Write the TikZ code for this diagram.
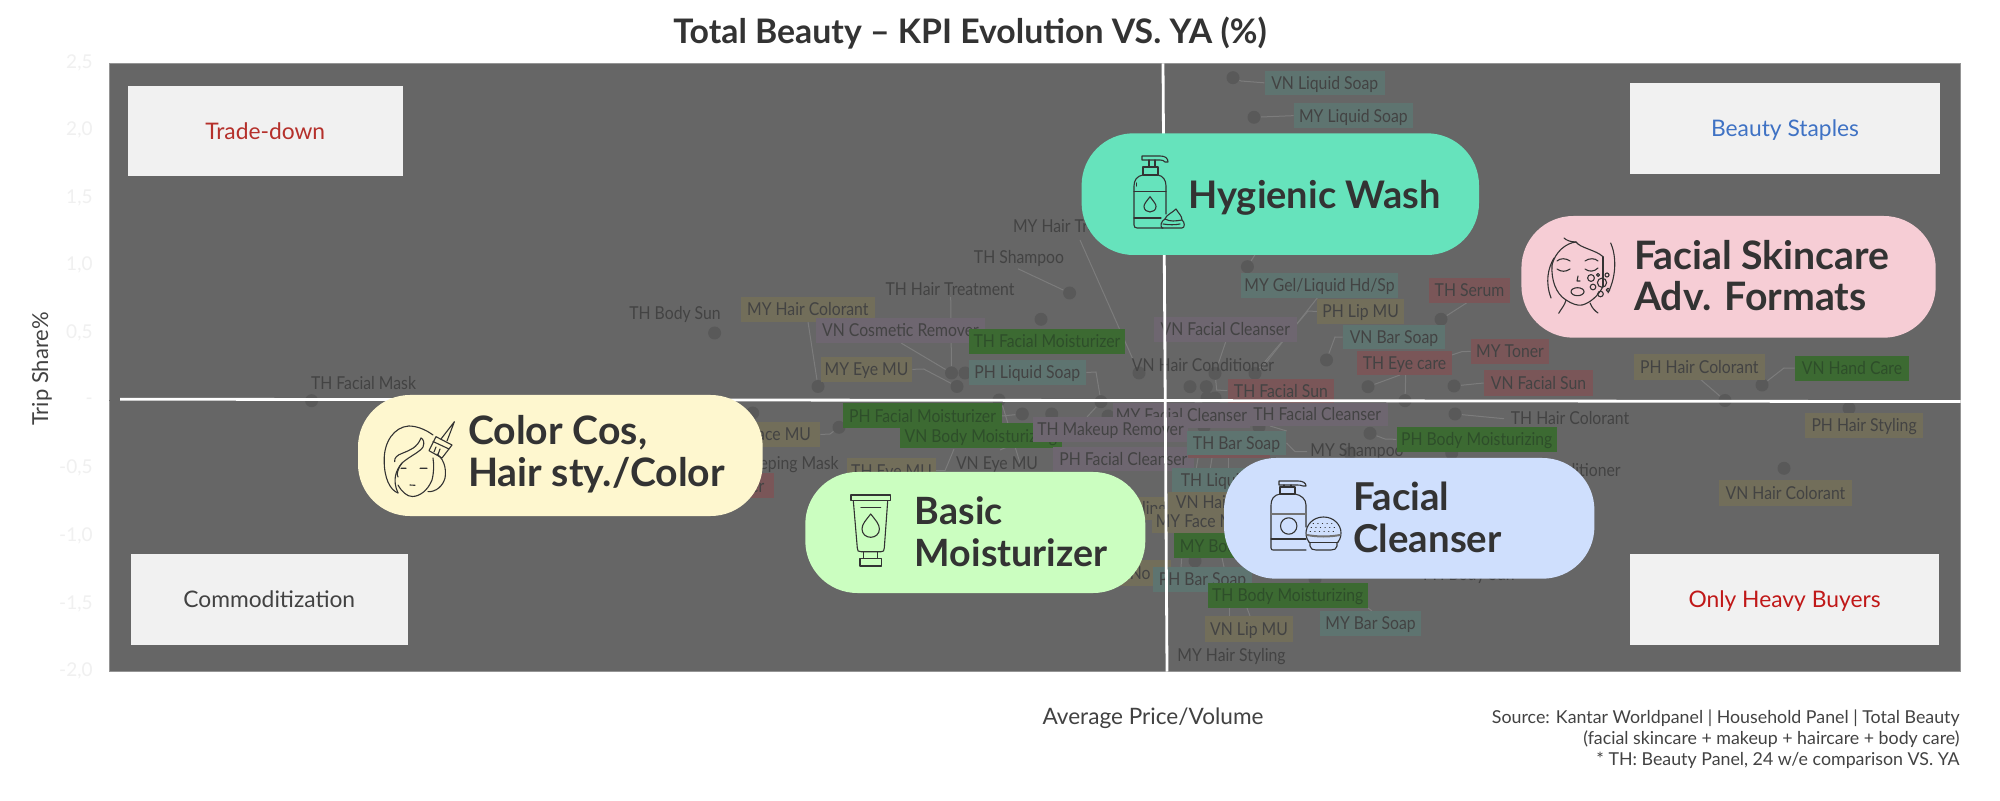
\documentclass[tikz,border=0pt]{standalone}
\usepackage{fontspec}
\setmainfont{Lato}
\newfontfamily\labfont[FakeStretch=0.885]{Lato}
\usetikzlibrary{positioning}
\definecolor{plotgrey}{HTML}{666666}
\definecolor{inktxt}{HTML}{333333}
\definecolor{dimtxt}{HTML}{424242}
\definecolor{labink}{HTML}{434343}
\definecolor{grnink}{HTML}{2E4E2A}
\definecolor{dotgrey}{HTML}{595959}
\definecolor{leadgrey}{HTML}{7C7C7C}
\definecolor{labteal}{HTML}{5E7470}
\definecolor{labolive}{HTML}{726E5A}
\definecolor{labpur}{HTML}{6E6670}
\definecolor{labgreen}{HTML}{3C6A32}
\definecolor{labred}{HTML}{7A5658}
\definecolor{pillgreen}{HTML}{66E3BC}
\definecolor{pillpink}{HTML}{F6CDD5}
\definecolor{pillyellow}{HTML}{FEF7CF}
\definecolor{pilllime}{HTML}{CBFEC0}
\definecolor{pillblue}{HTML}{CFDFFD}
\pgfdeclarelayer{plotlayer}
\pgfdeclarelayer{leaders}
\pgfdeclarelayer{axes}
\pgfdeclarelayer{pills}
\pgfsetlayers{plotlayer,leaders,main,axes,pills}
\tikzset{
  labbox/.style={rectangle,inner sep=0pt,text=labink,text height=7.4pt,text depth=1pt,font=\labfont\fontsize{8.9}{10}\selectfont},
  teal/.style={fill=labteal},
  olive/.style={fill=labolive},
  pur/.style={fill=labpur},
  grn/.style={fill=labgreen,text=grnink},
  rd/.style={fill=labred},
  labtxt/.style={inner sep=0pt,text=labink,text height=7.4pt,text depth=1pt,font=\labfont\fontsize{8.9}{10}\selectfont},
  ptdot/.style={circle,fill=dotgrey,minimum size=6.5pt,inner sep=0pt},
  lead/.style={draw=leadgrey,line width=0.5pt},
  tick/.style={inner sep=0pt,anchor=east,text=black!6,font=\fontsize{9.5}{10}\selectfont},
  whitebox/.style={rectangle,fill=black!5.5,inner sep=0pt,text height=9.2pt,text depth=1pt,font=\fontsize{11.4}{13}\selectfont},
  pill/.style={rectangle,rounded corners=26pt,inner sep=0pt},
  pilltxt/.style={inner sep=0pt,anchor=west,align=left,text=inktxt,font=\fontsize{19.6}{20.8}\selectfont\bfseries},
  axisline/.style={draw=white,line width=1.4pt},
  icon/.style={draw=inktxt,line width=0.55pt,line join=round,line cap=round},
}
\newcommand{\lbl}[7]{\node[labbox,#2,minimum width={(#5-#3)*0.5pt},minimum height={(#6-#4)*0.5pt}] (#1) at ({(#3+#5)/2},{(#4+#6)/2}) {#7};}
\newcommand{\dotn}[3]{\node[ptdot] (#1) at (#2,#3) {};}
\newcommand{\bx}[6]{\node[#2,minimum width={(#5-#3)*0.5pt},minimum height={(#6-#4)*0.5pt}] (#1) at ({(#3+#5)/2},{(#4+#6)/2})}
\begin{document}
\begin{tikzpicture}[x=0.5pt,y=-0.5pt]
\useasboundingbox (0,0) rectangle (2000,801);
% plot area
\begin{pgfonlayer}{plotlayer}
\fill[white] (0,0) rectangle (2000,801);
\bx{plot}{rectangle,fill=plotgrey,draw=black!42,line width=0.5pt,inner sep=0pt}{109.5}{63.5}{1960.5}{671.5} {};
\end{pgfonlayer}
% title and axis texts
\node[inner sep=0pt,text=inktxt,font=\fontsize{16.9}{20}\selectfont\bfseries] (title) at (970,33) {Total Beauty – KPI Evolution VS. YA (\%)};
\node[inner sep=0pt,rotate=90,text=dimtxt,font=\fontsize{11}{13}\selectfont] (ytitle) at (42,369) {Trip Share\%};
\node[inner sep=0pt,text=dimtxt,font=\fontsize{11.3}{13}\selectfont] (xtitle) at (1153,718) {Average Price/Volume};
\node[inner sep=0pt,anchor=north east,align=right,text=dimtxt,font=\fontsize{8.9}{10.6}\selectfont] (source) at (1960,709) {Source: Kantar Worldpanel | Household Panel | Total Beauty\\(facial skincare + makeup + haircare + body care)\\* TH: Beauty Panel, 24 w/e comparison VS. YA};
% ticks
\node[tick] (t1) at (93,63) {2,5};
\node[tick] (t2) at (93,130) {2,0};
\node[tick] (t3) at (93,198) {1,5};
\node[tick] (t4) at (93,265) {1,0};
\node[tick] (t5) at (93,333) {0,5};
\node[tick] (t6) at (93,401) {-};
\node[tick] (t7) at (93,468) {-0,5};
\node[tick] (t8) at (93,536) {-1,0};
\node[tick] (t9) at (93,604) {-1,5};
\node[tick] (t10) at (93,671) {-2,0};
% dots
\dotn{dMask}{311.6}{400.7}
\dotn{dBodySun}{714.6}{333}
\dotn{dShamp}{1069.6}{293}
\dotn{dA}{1041}{319.3}
\dotn{dHCol}{818}{386.5}
\dotn{dCos}{951.5}{373}
\dotn{dB}{965}{373}
\dotn{dEye}{957}{386.5}
\dotn{dHairTr}{1139}{373}
\dotn{dLiq}{1101}{401.7}
\dotn{dC}{1190}{386.7}
\dotn{dD}{1206.3}{386.7}
\dotn{dVFC}{1215}{373.3}
\dotn{dLip}{1255}{373.3}
\dotn{dE}{1207}{398}
\dotn{dF}{1215}{398}
\dotn{dVBS}{1326.5}{360}
\dotn{dEyeC}{1368}{386.7}
\dotn{dEyeD}{1405}{400.7}
\dotn{dSerum}{1441}{319.3}
\dotn{dVSun}{1454}{386}
\dotn{dVLS}{1233}{77.7}
\dotn{dMLS}{1254}{117.3}
\dotn{dGel}{1247.4}{266.7}
\dotn{dHand}{1762}{385}
\dotn{dPHC}{1725}{400.5}
\dotn{dTHC}{1455}{414}
\dotn{dPBM}{1370}{433.3}
\dotn{dVHC}{1784}{468.3}
\dotn{dPHS}{1849}{408.3}
\dotn{dG}{752.7}{413}
\dotn{dFaceMU}{839}{427.3}
\dotn{dH}{1022.3}{414}
\dotn{dI}{1051.7}{414}
\dotn{dJ}{1108}{416}
\dotn{dK}{999}{400}
\dotn{dL}{1204}{427}
\dotn{dM}{1259}{427}
\dotn{dMSh}{1350}{453}
\dotn{dN}{1451.7}{453}
\dotn{dO}{1195}{561}
\dotn{dBar}{1315}{579}
% plain and boxed scatter labels, in stacking order
\node[labtxt] (lMask) at (363.5,383) {TH Facial Mask};
\node[labtxt] (lBodySun) at (675,312.7) {TH Body Sun};
\node[labtxt] (lHairTr) at (950,289) {TH Hair Treatment};
\node[labtxt] (lShamp) at (1019,257) {TH Shampoo};
\node[labtxt] (lMHT) at (1079,226) {MY Hair Treatment};
\lbl{lMHC}{olive}{741}{297}{874.6}{322}{MY Hair Colorant}
\lbl{lCos}{pur}{816}{318}{985}{343}{VN Cosmetic Remover}
\lbl{lTFM}{grn}{968.6}{329}{1125.4}{353.7}{TH Facial Moisturizer}
\lbl{lPLS}{teal}{968.6}{360}{1086}{385}{PH Liquid Soap}
\lbl{lMEye}{olive}{821}{357}{912}{381.7}{MY Eye MU}
\lbl{lVFC}{pur}{1154}{317.3}{1296.7}{341.7}{VN Facial Cleanser}
\node[labtxt] (lVHC) at (1203,365) {VN Hair Conditioner};
\lbl{lTFS}{rd}{1227.7}{378.7}{1334}{402.7}{TH Facial Sun}
\lbl{lVLS}{teal}{1264.8}{70.7}{1384.7}{95}{VN Liquid Soap}
\lbl{lMLS}{teal}{1294}{103.3}{1412.8}{128}{MY Liquid Soap}
\lbl{lGel}{teal}{1241}{273}{1398}{297.7}{MY Gel/Liquid Hd/Sp}
\lbl{lSerum}{rd}{1429}{278}{1510}{302.7}{TH Serum}
\lbl{lLip}{olive}{1317.3}{299}{1404}{324}{PH Lip MU}
\lbl{lVBS}{teal}{1343}{325}{1445}{349.3}{VN Bar Soap}
\lbl{lToner}{rd}{1471}{339}{1549}{363.7}{MY Toner}
\lbl{lEyeC}{rd}{1357}{350.7}{1452}{375}{TH Eye care}
\lbl{lVSun}{rd}{1484}{370.3}{1593}{395.7}{VN Facial Sun}
\lbl{lPHC}{olive}{1633.7}{354}{1765}{379.7}{PH Hair Colorant}
\lbl{lHand}{grn}{1795}{355.7}{1909}{380.7}{VN Hand Care}
\lbl{lPHS}{olive}{1804.7}{413.3}{1923.4}{437.7}{PH Hair Styling}
\lbl{lVHCol}{olive}{1719}{480}{1852}{505.7}{VN Hair Colorant}
\node[labtxt] (lTHC) at (1570,418.3) {TH Hair Colorant};
\node[labtxt,anchor=east] (lCond) at (1621,470) {Hair Conditioner};
\node[labtxt,anchor=east] (lBS) at (1515,574) {PH Body Sun};
\lbl{lFace}{olive}{715}{422.3}{820}{446.7}{TH Face MU}
\node[labtxt,anchor=east] (lSleep) at (839,463) {TH Sleeping Mask};
\lbl{lTon}{rd}{690}{473.3}{774}{498.3}{TH Toner}
\lbl{lTEye}{olive}{847.3}{458.3}{935.7}{483}{TH Eye MU}
\node[labtxt] (lVEye) at (997,463.3) {VN Eye MU};
\lbl{lPFM}{grn}{843.3}{403.3}{1001.7}{428.3}{PH Facial Moisturizer}
\lbl{lVBM}{grn}{900}{423.3}{1061.7}{448.3}{VN Body Moisturizing}
\lbl{lMFC}{pur}{1113}{402.7}{1250}{428}{MY Facial Cleanser}
\lbl{lTFC}{pur}{1246.7}{402.7}{1387.7}{426}{TH Facial Cleanser}
\lbl{lTMR}{pur}{1033}{416.7}{1188}{441.7}{TH Makeup Remover}
\lbl{lPFC}{pur}{1052.7}{446.7}{1194}{471}{PH Facial Cleanser}
\lbl{lRed}{rd}{1188}{440}{1270}{458}{}
\lbl{lTBS}{teal}{1187}{430.7}{1286}{455}{TH Bar Soap}
\node[labtxt] (lMSh) at (1357,450) {MY Shampoo};
\lbl{lPBM}{grn}{1396.7}{426.7}{1556.7}{452}{PH Body Moisturizing}
\lbl{lTLS}{teal}{1172.3}{468.3}{1295}{491.7}{TH Liquid Soap}
\lbl{lHst}{olive}{1040}{497}{1163}{520}{\hspace*{1.4em}TH Hair Styling}
\lbl{lVHa}{olive}{1168}{491.7}{1290}{513}{VN Hair Styling}
\lbl{lMFa}{olive}{1151.7}{509}{1250}{533.3}{MY Face MU}
\lbl{lMBo}{grn}{1174}{533.3}{1340}{558.3}{MY Body Moisturizing}
\lbl{lNo}{olive}{1120}{560}{1171}{586}{\hspace*{-0.6em}No}
\lbl{lPBa}{teal}{1153}{567}{1252}{592}{PH Bar Soap}
\lbl{lTBM}{grn}{1207.7}{582.7}{1367.7}{607.7}{TH Body Moisturizing}
\lbl{lVLip}{olive}{1205}{616}{1293}{641.7}{VN Lip MU}
\node[labtxt] (lMHS) at (1231.5,655) {MY Hair Styling};
\lbl{lMBar}{teal}{1320}{610.7}{1421}{635.7}{MY Bar Soap}
% leader lines
\begin{pgfonlayer}{leaders}
\draw[lead] (lShamp.south) ++(-1,3) -- (dShamp);
\draw[lead] (1080,240) -- (dHairTr);
\draw[lead] (808,322) -- (dHCol);
\draw[lead] (950.7,297) -- (dCos);
\draw[lead] (901,343) -- (dCos);
\draw[lead] (lMEye.east) -- (923.7,369) -- (dEye);
\draw[lead] (lPLS.east) -- (1096,372) -- (dLiq);
\draw[lead] (dVLS) -- (1241,81) -- (lVLS.west);
\draw[lead] (dMLS) -- (lMLS.west);
\draw[lead] (dGel) -- (1258,250);
\draw[lead] (dSerum) -- (1468,302);
\draw[lead] (dVBS) -- (1335,337) -- (lVBS.west);
\draw[lead] (1318,297) -- (1258,373);
\draw[lead] (lLip.west) -- (1308,311) -- (dLip);
\draw[lead] (1226,341) -- (dVFC);
\draw[lead] (lTFS.west) -- (1216.7,390) -- (dVFC);
\draw[lead] (dEyeC) -- (1400,375);
\draw[lead] (1405.7,375) -- (dEyeD);
\draw[lead] (lToner.west) -- (1461.7,351.7) -- (1451.7,355);
\draw[lead] (dVSun) -- (lVSun.west);
\draw[lead] (dHand) -- (1784,368) -- (lHand.west);
\draw[lead] (1700,379) -- (dPHC);
\draw[lead] (dTHC) -- (1504,418.7);
\draw[lead] (dPBM) -- (1385,439) -- (lPBM.west);
\draw[lead] (lFace.east) -- (830,434) -- (dFaceMU);
\draw[lead] (lTEye.east) -- (945,470.7) -- (954,449);
\draw[lead] (1001.7,416) -- (dH);
\draw[lead] (1001.7,403) -- (1020,463);
\draw[lead] (dLiq) -- (1087,417);
\draw[lead] (1000,450) -- (1016,443);
\draw[lead] (lTBS.east) -- (1295,451.7) -- (1307,451.7);
\draw[lead] (1198,458) -- (1196,470);
\draw[lead] (1212,458) -- (1210,470);
\draw[lead] (1228,458) -- (1228,470);
\draw[lead] (1270,426) -- (1286.7,431);
\draw[lead] (1229,608) -- (1229,616);
\draw[lead] (1247,608) -- (1250,616);
\draw[lead] (lTBM.south east) -- (1372,611);
\draw[lead] (lMBo.south west) ++(8,0) -- (1181,567);
\draw[lead] (1222,558) -- (1224,567);
\draw[draw=black!60,line width=0.5pt] (plot.west |- dMask) -- (182,400.7);
\end{pgfonlayer}
% axes
\begin{pgfonlayer}{axes}
\coordinate (hL) at (120,399.2);
\coordinate (hR) at (1960.5,401.6);
\coordinate (vT) at (1163,63.5);
\coordinate (vB) at (1167,671.5);
\draw[axisline] (hL) -- (hR);
\draw[axisline] (vT) -- (vB);
\end{pgfonlayer}
% quadrant boxes and category pills
\begin{pgfonlayer}{pills}
\bx{qTD}{whitebox,text={rgb,255:red,181;green,48;blue,43}}{128}{86}{402.5}{176} {Trade-down};
\bx{qBS}{whitebox,text={rgb,255:red,63;green,114;blue,196}}{1630}{83}{1940}{174} {Beauty Staples};
\bx{qCM}{whitebox,text=dimtxt}{130.5}{553.7}{408}{644.7} {Commoditization};
\bx{qHB}{whitebox,text={rgb,255:red,192;green,24;blue,24}}{1630}{553.7}{1939}{644.7} {Only Heavy Buyers};
\bx{pHW}{pill,fill=pillgreen}{1081.6}{133.3}{1479}{255} {};
\bx{pFS}{pill,fill=pillpink}{1521.4}{216}{1935.7}{337.7} {};
\bx{pCC}{pill,fill=pillyellow}{358}{395}{762.7}{516} {};
\bx{pBM}{pill,fill=pilllime}{805.3}{472}{1145.3}{593} {};
\bx{pFC}{pill,fill=pillblue}{1224}{458}{1594.4}{578.7} {};
\node[pilltxt,font=\fontsize{19}{20.8}\selectfont\bfseries] (tHW) at (1188,197.5) {Hygienic Wash};
\node[pilltxt] (tFS) at (1633.7,275.5) {Facial Skincare\\Adv. Formats};
\node[pilltxt] (tCC) at (467.7,454) {Color Cos,\\Hair sty./Color};
\node[pilltxt,font=\fontsize{18.8}{20.8}\selectfont\bfseries] (tBM) at (914.5,531.5) {Basic\\Moisturizer};
\node[pilltxt,font=\fontsize{19.2}{20.8}\selectfont\bfseries] (tFC) at (1353,517.5) {Facial\\Cleanser};
% pump bottle and cream
\draw[icon] (1142,156) -- (1160,156) .. controls (1165,156) and (1168,158) .. (1168,162) -- (1165,162) .. controls (1164,160.5) and (1162,160) .. (1160,160) -- (1142,160) -- cycle;
\draw[icon] (1149,160) -- (1149,167) (1155,160) -- (1155,167);
\draw[icon] (1143,167) -- (1158,167) -- (1158,175) -- (1143,175) -- cycle;
\draw[icon] (1143,175) .. controls (1137,176) and (1134,180) .. (1134,186) -- (1134,225) .. controls (1134,227) and (1135,228) .. (1137,228) -- (1163,228);
\draw[icon] (1158,175) .. controls (1163,176) and (1166,180) .. (1166,186) -- (1166,214);
\draw[icon] (1134,191.7) -- (1166,191.7) (1134,218) -- (1161,218);
\draw[icon] (1136.5,183) -- (1136.5,186);
\draw[icon] (1150,196.7) .. controls (1146,202) and (1144,204) .. (1144,206.5) .. controls (1144,210) and (1147,212) .. (1150,212) .. controls (1153,212) and (1156,210) .. (1156,206.5) .. controls (1156,204) and (1154,202) .. (1150,196.7) -- cycle;
\draw[icon] (1162,228) -- (1182,228) .. controls (1185,228) and (1185,222) .. (1182,220) .. controls (1182,216) and (1179,214) .. (1176,209) .. controls (1172,213) and (1166,215) .. (1165,219) .. controls (1161,221) and (1160,226) .. (1162,228) -- cycle;
\draw[icon] (1165,219) .. controls (1170,222) and (1176,221) .. (1182,220);
\draw[icon] (1163,224) .. controls (1169,225) and (1175,225) .. (1180,224);
% tube
\draw[icon] (851,495) -- (890.7,495) -- (890.7,500.7) -- (851,500.7) -- cycle;
\draw[icon] (853.3,500.7) -- (857.3,548) .. controls (857.5,551) and (858,551.7) .. (861,551.7) -- (881,551.7) .. controls (883.5,551.7) and (884,551) .. (884.3,548) -- (887.7,500.7);
\draw[icon] (863.7,551.7) -- (863.7,558.3) (877.7,551.7) -- (877.7,558.3);
\draw[icon] (860,558.3) -- (881.7,558.3) -- (881.7,566) -- (860,566) -- cycle;
\draw[icon] (861,507.3) -- (880.7,507.3);
\draw[icon] (870.7,514) .. controls (866,520) and (862,524) .. (862,529) .. controls (862,534) and (866,537.3) .. (870.7,537.3) .. controls (875.4,537.3) and (879.4,534) .. (879.4,529) .. controls (879.4,524) and (875.4,520) .. (870.7,514) -- cycle;
% cleanser bottle and compact
\draw[icon] (1279,481) -- (1298,481) .. controls (1303,481) and (1306,483) .. (1306,486) -- (1303,486) .. controls (1301,485) and (1299,485) .. (1297,485) -- (1279,485) -- cycle;
\draw[icon] (1284,485) -- (1284,487) (1291,485) -- (1291,487);
\draw[icon] (1280,487) -- (1295,487) -- (1295,494) -- (1280,494) -- cycle;
\draw[icon] (1280,494) .. controls (1274,495) and (1271,499) .. (1271,505) -- (1271,548) .. controls (1271,549.5) and (1272,550) .. (1273,550) -- (1306,550);
\draw[icon] (1295,494) .. controls (1301,495) and (1306,499) .. (1306,505) -- (1306,527);
\draw[icon,line width=1pt,draw=black!55] (1271,513.5) -- (1306,513.5);
\draw[icon] (1271,539) -- (1306,539);
\draw[icon] (1288.7,526) circle[radius=8.2];
\draw[icon] (1323.5,517) .. controls (1334,517) and (1341,525) .. (1341,533) .. controls (1341,538) and (1339,541) .. (1337,543) -- (1337,546) .. controls (1337,549) and (1334,550) .. (1331,550) -- (1316,550) .. controls (1313,550) and (1310,549) .. (1310,546) -- (1310,543) .. controls (1308,541) and (1306,538) .. (1306,533) .. controls (1306,525) and (1313,517) .. (1323.5,517) -- cycle;
\draw[icon,line width=1pt,draw=black!55] (1307,535) .. controls (1318,537) and (1329,537) .. (1340,535);
\draw[icon] (1309,542.7) -- (1338,542.7);
\draw[icon,line width=0.3pt,dotted] (1313,523) -- (1334,523) (1311,527) -- (1336,527) (1310,531) -- (1337,531);
% hair colour icon
\draw[icon] (433,435) .. controls (425,429) and (416,426) .. (408.8,426) .. controls (394,427) and (384,442) .. (384.2,460) .. controls (384,478) and (390,490) .. (398,493);
\draw[icon] (398,493) .. controls (392,480) and (396,470) .. (402,463) .. controls (410,456) and (420,452) .. (423,447) .. controls (425,442) and (423,439) .. (421,438);
\draw[icon] (421,438) .. controls (417,448) and (410,450) .. (403,453) .. controls (397,455) and (394,458) .. (394.7,461.7);
\draw[icon] (402,463) .. controls (398,468) and (396,475) .. (398,477);
\draw[icon] (398,485) .. controls (402,492) and (407,496.5) .. (412.3,496.5) .. controls (420,496.5) and (428,490) .. (432,480) .. controls (434,472) and (434,465) .. (433,458);
\draw[icon] (437,454) .. controls (446,461) and (446,472) .. (445,478) .. controls (443,486) and (436,492) .. (428,491.7);
\draw[icon] (401,468.3) -- (406,468.3) (420,468.3) -- (427,468.3) (410,485) -- (415,485.3);
\draw[icon] (436,436.7) -- (452,445) -- (442,458) -- (429,450.7) -- cycle;
\draw[icon] (433,441.5) -- (449,449);
\draw[icon] (434,452) -- (436,447) (438,454.5) -- (440,449);
\draw[icon] (441,439) -- (454.4,421.7) -- (447,441);
% facial skincare icon
\draw[icon] (1554,258) .. controls (1548,268) and (1545,282) .. (1551,298);
\draw[icon] (1552,265) .. controls (1555,252) and (1566,243) .. (1576,242) .. controls (1580,248) and (1596,250) .. (1603,256.7);
\draw[icon] (1603,256.7) -- (1603,286.7);
\draw[icon] (1552,265) .. controls (1551,280) and (1556,294) .. (1566,300) .. controls (1572,304) and (1578,306) .. (1582,305) .. controls (1590,303) and (1598,296) .. (1603,286.7);
\draw[icon] (1566,300) .. controls (1565,305) and (1561,309) .. (1558.7,313.3);
\draw[icon] (1590,303) .. controls (1592,308) and (1595,311) .. (1598,313);
\draw[icon] (1564,238) .. controls (1566,240) and (1570,242) .. (1576,242);
\draw[icon] (1610.7,243) .. controls (1616,255) and (1617,275) .. (1608,293);
\draw[icon] (1557,261) .. controls (1560,258) and (1566,258) .. (1570,261);
\draw[icon] (1585,261) .. controls (1589,258) and (1595,258) .. (1598,261);
\draw[icon] (1557,269) .. controls (1561,272) and (1566,272) .. (1570,269);
\draw[icon] (1585,269) .. controls (1589,272) and (1594,272) .. (1598,268);
\draw[icon] (1577.5,291.7) ellipse[x radius=6.5,y radius=4];
\draw[icon] (1578,276) -- (1577,281) -- (1580,281);
\draw[icon] (1591,278) circle[radius=3.4];
\draw[icon] (1602,282.7) circle[radius=4.6];
\draw[icon] (1593,287) circle[radius=2.8];
\draw[icon] (1600.5,294) circle[radius=2.8];
\draw[icon] (1607,275) circle[radius=2];
\draw[icon] (1598,275) circle[radius=1.5];
\draw[icon] (1608,290) circle[radius=1.8];
\end{pgfonlayer}
\end{tikzpicture}
\end{document}
